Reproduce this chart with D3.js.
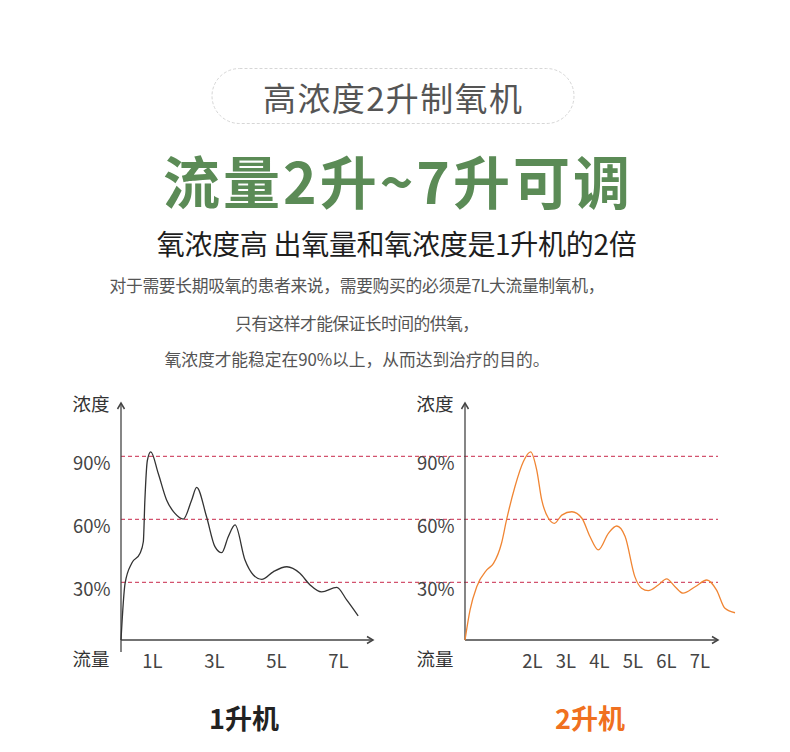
<!DOCTYPE html>
<html><head><meta charset="utf-8">
<script src="https://cdn.jsdelivr.net/npm/d3@7"></script>
<style>
html,body{margin:0;padding:0;background:#fff;}
svg{display:block;font-family:"Noto Sans CJK SC","Noto Sans",sans-serif;}
</style></head>
<body>
<svg id="c" width="790" height="752"></svg>
<script>
// ---- data ----
const yTicks = [30, 60, 90];
const leftTickValues = [1, 3, 5, 7];
const rightTickValues = [2, 3, 4, 5, 6, 7];
const leftFlow = [0, 0.13, 0.35, 0.61, 0.72, 0.77, 0.85, 0.96, 1.20, 1.47, 1.74, 2.01, 2.28, 2.44, 2.76, 3.03, 3.25, 3.46, 3.68, 4.00, 4.27, 4.54, 4.91, 5.35, 5.77, 6.10, 6.47, 6.96, 7.28, 7.65];
const leftConc = [2.5, 29.4, 39.2, 43.7, 49.3, 69, 88, 92.1, 81.9, 69.2, 62.8, 60.1, 69.2, 75.2, 61.2, 47, 44.1, 51.7, 57.3, 40.6, 33.5, 31.4, 35, 37.4, 34.3, 28.7, 25.4, 27.6, 21.6, 14];
const rightFlow = [0, 0.15, 0.35, 0.65, 0.85, 1.09, 1.24, 1.49, 1.74, 1.96, 2.14, 2.29, 2.49, 2.67, 2.89, 3.19, 3.49, 3.73, 3.98, 4.28, 4.53, 4.78, 5.07, 5.27, 5.47, 5.77, 6.02, 6.27, 6.51, 6.87, 7.22, 7.51, 7.76, 8.06];
const rightConc = [2.5, 16.8, 27.9, 35.9, 39, 48.6, 59.7, 75.5, 87.4, 92.1, 83.5, 69.2, 60.5, 58.1, 62, 63.6, 60.5, 51.8, 45.4, 53.3, 56.8, 51.8, 32.7, 27.2, 26, 28.7, 31.6, 27.9, 24.8, 27.9, 31.1, 26.3, 17.6, 15.5];

const pillText = "高浓度2升制氧机";
const titleText = "流量2升~7升可调";
const subtitleText = "氧浓度高 出氧量和氧浓度是1升机的2倍";
const paraLines = ["对于需要长期吸氧的患者来说，需要购买的必须是7L大流量制氧机，", "只有这样才能保证长时间的供氧，", "氧浓度才能稳定在90%以上，从而达到治疗的目的。"];
const yAxisName = "浓度";
const xAxisName = "流量";
const chartNames = ["1升机", "2升机"];

// ---- drawing ----
const svg = d3.select("#c");
const CJK = '"Noto Sans CJK SC","Noto Sans",sans-serif';

// header pill
svg.append("rect").attr("x", 212).attr("y", 68.5).attr("width", 362).attr("height", 55).attr("rx", 27.5)
  .attr("fill", "#fff").attr("stroke", "#d6d6d6").attr("stroke-width", 1).attr("stroke-dasharray", "3,2");
svg.append("text").attr("x", 392.5).attr("y", 97).attr("text-anchor", "middle").attr("dominant-baseline", "central")
  .attr("font-size", 33).attr("fill", "#555").attr("textLength", 259).attr("lengthAdjust", "spacing").text(pillText);

svg.append("text").attr("x", 396.5).attr("y", 179).attr("text-anchor", "middle").attr("dominant-baseline", "central")
  .attr("font-size", 57).attr("font-weight", 700).attr("fill", "#5b8b56").attr("textLength", 467).attr("lengthAdjust", "spacing").text(titleText);

svg.append("text").attr("x", 396.7).attr("y", 243).attr("text-anchor", "middle").attr("dominant-baseline", "central")
  .attr("font-size", 28).attr("font-weight", 400).attr("fill", "#1e1e1e").attr("textLength", 480).attr("lengthAdjust", "spacing").text(subtitleText);

const paraY = [285, 323, 359];
const paraW = [495, 244, 385];
svg.selectAll("text.para").data(paraLines).join("text").attr("class", "para")
  .attr("x", 357).attr("y", (d, i) => paraY[i]).attr("text-anchor", "middle").attr("dominant-baseline", "central")
  .attr("font-size", 16.8).attr("fill", "#555").attr("textLength", (d, i) => paraW[i]).attr("lengthAdjust", "spacing").text(d => d);

// shared y scale
const y = d3.scaleLinear().domain([0, 90]).range([645.3, 456.3]);
const baseY = 640, topY = 403;

// gridlines across both charts
svg.append("g").selectAll("line").data(yTicks).join("line")
  .attr("x1", 121).attr("x2", 718).attr("y1", d => y(d)).attr("y2", d => y(d))
  .attr("stroke", "#c9284a").attr("stroke-width", 1).attr("stroke-dasharray", "4,3");

function drawChart(cfg) {
  const x = d3.scaleLinear().domain([0, 1]).range([cfg.ax, cfg.ax + cfg.perL]);
  const g = svg.append("g");
  // y tick labels
  const ya = g.append("g").attr("transform", `translate(${cfg.ax},0)`)
    .call(d3.axisLeft(y).tickValues(yTicks).tickFormat(d => d + "%").tickSize(0).tickPadding(10.5));
  ya.select(".domain").remove();
  ya.selectAll("text").attr("font-family", CJK).attr("font-size", 18.5).attr("fill", "#444")
    .attr("dy", null).attr("dominant-baseline", "central").attr("transform", "translate(0,5.5)");
  // x tick labels
  const xa = g.append("g").attr("transform", `translate(0,${baseY})`)
    .call(d3.axisBottom(x).tickValues(cfg.ticks).tickFormat(d => d + "L").tickSize(0).tickPadding(0));
  xa.select(".domain").remove();
  xa.selectAll("text").attr("font-family", CJK).attr("font-size", 18.5).attr("fill", "#444")
    .attr("dy", null).attr("y", 19.5).attr("dominant-baseline", "central");
  // axes lines with arrows
  g.append("line").attr("x1", cfg.ax).attr("x2", cfg.ax).attr("y1", cfg.yBottom).attr("y2", topY)
    .attr("stroke", "#444").attr("stroke-width", 1.3);
  g.append("path").attr("d", `M${cfg.ax - 3.5},${topY + 6}L${cfg.ax},${topY}L${cfg.ax + 3.5},${topY + 6}`)
    .attr("fill", "none").attr("stroke", "#444").attr("stroke-width", 1.5);
  g.append("line").attr("x1", cfg.ax).attr("x2", cfg.xEnd).attr("y1", baseY).attr("y2", baseY)
    .attr("stroke", "#444").attr("stroke-width", 1.3);
  g.append("path").attr("d", `M${cfg.xEnd - 6},${baseY - 3.5}L${cfg.xEnd},${baseY}L${cfg.xEnd - 6},${baseY + 3.5}`)
    .attr("fill", "none").attr("stroke", "#444").attr("stroke-width", 1.5);
  // axis names
  g.append("text").attr("x", cfg.ax - 30).attr("y", 403).attr("text-anchor", "middle").attr("dominant-baseline", "central")
    .attr("font-size", 18.5).attr("fill", "#333").text(yAxisName);
  g.append("text").attr("x", cfg.ax - 30).attr("y", 657.5).attr("text-anchor", "middle").attr("dominant-baseline", "central")
    .attr("font-size", 18.5).attr("fill", "#333").text(xAxisName);
  // curve
  const pts = cfg.flow.map((f, i) => [f, cfg.conc[i]]);
  g.append("path").datum(pts)
    .attr("d", d3.line().x(d => x(d[0])).y(d => y(d[1])).curve(d3.curveMonotoneX))
    .attr("fill", "none").attr("stroke", cfg.color).attr("stroke-width", 1.3);
  // name
  g.append("text").attr("x", cfg.nameX).attr("y", 717).attr("text-anchor", "middle").attr("dominant-baseline", "central")
    .attr("font-size", 27).attr("font-weight", 700).attr("fill", cfg.nameColor).text(cfg.name);
}

drawChart({ax: 121, perL: 31, xEnd: 373, yBottom: 652, ticks: leftTickValues, flow: leftFlow, conc: leftConc,
  color: "#333", name: chartNames[0], nameX: 244, nameColor: "#222"});
drawChart({ax: 465, perL: 33.5, xEnd: 718, yBottom: 640, ticks: rightTickValues, flow: rightFlow, conc: rightConc,
  color: "#f08533", name: chartNames[1], nameX: 590, nameColor: "#f07020"});
</script>
</body></html>
